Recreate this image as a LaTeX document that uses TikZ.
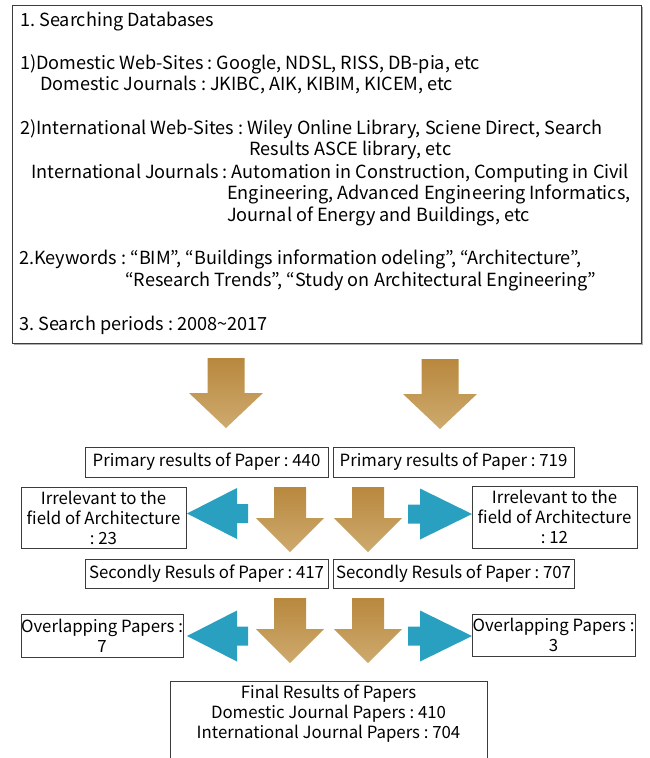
\documentclass[tikz,border=0pt]{standalone}
\usepackage{fontspec}
\setmainfont{Noto Sans CJK KR}
\usetikzlibrary{shadows}
\frenchspacing

\definecolor{boxline}{RGB}{60,60,60}
\definecolor{goldtop}{RGB}{184,136,62}
\definecolor{goldbot}{RGB}{206,170,110}
\definecolor{arrowcyan}{RGB}{42,160,192}

\newcommand\topfont{\fontsize{18.1}{21.5}\selectfont}
\newcommand\boxfont{\fontsize{16.8}{20}\selectfont}

\tikzset{
  box/.style={draw=boxline, line width=0.8pt, fill=white, inner sep=0pt,
    drop shadow={shadow xshift=1.2pt, shadow yshift=-1.2pt, opacity=0.45, fill=black!70}},
  lbl/.style={font=\boxfont, align=center, inner sep=0pt},
  line/.style={font=\topfont, anchor=base west, inner sep=0pt},
  pics/bigdown/.style={code={
    \shade[top color=goldtop, bottom color=goldbot]
      (-18.5,-70) -- (18.5,-70) -- (18.5,-35) -- (37,-35) -- (0,0)
      -- (-37,-35) -- (-18.5,-35) -- cycle;}},
  pics/smalldown/.style={code={
    \shade[top color=goldtop, bottom color=goldbot]
      (-16,-65) -- (16,-65) -- (16,-34) -- (34,-34) -- (0,0)
      -- (-34,-34) -- (-16,-34) -- cycle;}},
  pics/sideleft/.style={code={
    \fill[arrowcyan] (0,0) -- (50,-25.5) -- (50,-9.5) -- (61,-9.5)
      -- (61,9.5) -- (50,9.5) -- (50,25.5) -- cycle;}},
  pics/sideright/.style={code={
    \fill[arrowcyan] (0,0) -- (-52,-25.5) -- (-52,-9.5) -- (-64,-9.5)
      -- (-64,9.5) -- (-52,9.5) -- (-52,25.5) -- cycle;}},
}

\begin{document}
\begin{tikzpicture}[x=1pt, y=-1pt]
\useasboundingbox[fill=white] (0,0) rectangle (650,758);

% search criteria box
\node[box, anchor=north west, minimum width=629pt, minimum height=338pt] (search) at (12,5) {};
\node[line] (l1)  at (20,26.5)  {1. Searching Databases};
\node[line] (l2)  at (20,69.5)  {1)Domestic Web-Sites : Google, NDSL, RISS, DB-pia, etc};
\node[line] (l3)  at (40,90.5)  {Domestic Journals : JKIBC, AIK, KIBIM, KICEM, etc};
\node[line] (l4)  at (20,134.5) {2)International Web-Sites : Wiley Online Library, Sciene Direct, Search};
\node[line] (l5)  at (249,155.5) {Results ASCE library, etc};
\node[line] (l6)  at (31,178.5) {International Journals : Automation in Construction, Computing in Civil};
\node[line] (l7)  at (227,199.5) {Engineering, Advanced Engineering Informatics,};
\node[line] (l8)  at (227,221.5) {Journal of Energy and Buildings, etc};
\node[line] (l9)  at (19,264.5) {2.Keywords : “BIM”, “Buildings information odeling”, “Architecture”,};
\node[line] (l10) at (125,286.5) {“Research Trends”, “Study on Architectural Engineering”};
\node[line] (l11) at (19,330.5) {3. Search periods : 2008\textasciitilde 2017};

% top arrows
\pic at (226,428) {bigdown};
\pic at (440,429) {bigdown};

% primary results
\node[box, lbl, minimum width=243pt, minimum height=30pt] (p1) at (206.5,462) {Primary results of Paper : 440};
\node[box, lbl, minimum width=241pt, minimum height=30pt] (p2) at (453.5,462) {Primary results of Paper : 719};

% irrelevant papers
\node[box, lbl, minimum width=165pt, minimum height=61pt] (i1) at (103.5,517.5) {Irrelevant to the\\field of Architecture\\: 23};
\node[box, lbl, minimum width=165pt, minimum height=62pt] (i2) at (554.5,517) {Irrelevant to the\\field of Architecture\\: 12};

\pic at (187,513.5) {sideleft};
\pic at (472,514) {sideright};
\pic at (290,552) {smalldown};
\pic at (368,552) {smalldown};

% secondly results
\node[box, lbl, minimum width=243pt, minimum height=29pt] (s1) at (206.5,573.5) {Secondly Resuls of Paper : 417};
\node[box, lbl, minimum width=241pt, minimum height=29pt] (s2) at (453.5,573.5) {Secondly Resuls of Paper : 707};

% overlapping papers
\node[box, lbl, minimum width=162pt, minimum height=43pt] (o1) at (102,635.5) {Overlapping Papers :\\7};
\node[box, lbl, minimum width=163pt, minimum height=42pt] (o2) at (553.5,635) {Overlapping Papers :\\3};

\pic at (187,636) {sideleft};
\pic at (472,636) {sideright};
\pic at (290,663) {smalldown};
\pic at (368,663) {smalldown};

% final results
\node[box, anchor=north, minimum width=317pt, minimum height=100pt] (final) at (328.5,681) {};
\node[lbl] (finaltxt) at (328.5,714) {Final Results of Papers\\Domestic Journal Papers : 410\\International Journal Papers : 704};
\end{tikzpicture}
\end{document}
